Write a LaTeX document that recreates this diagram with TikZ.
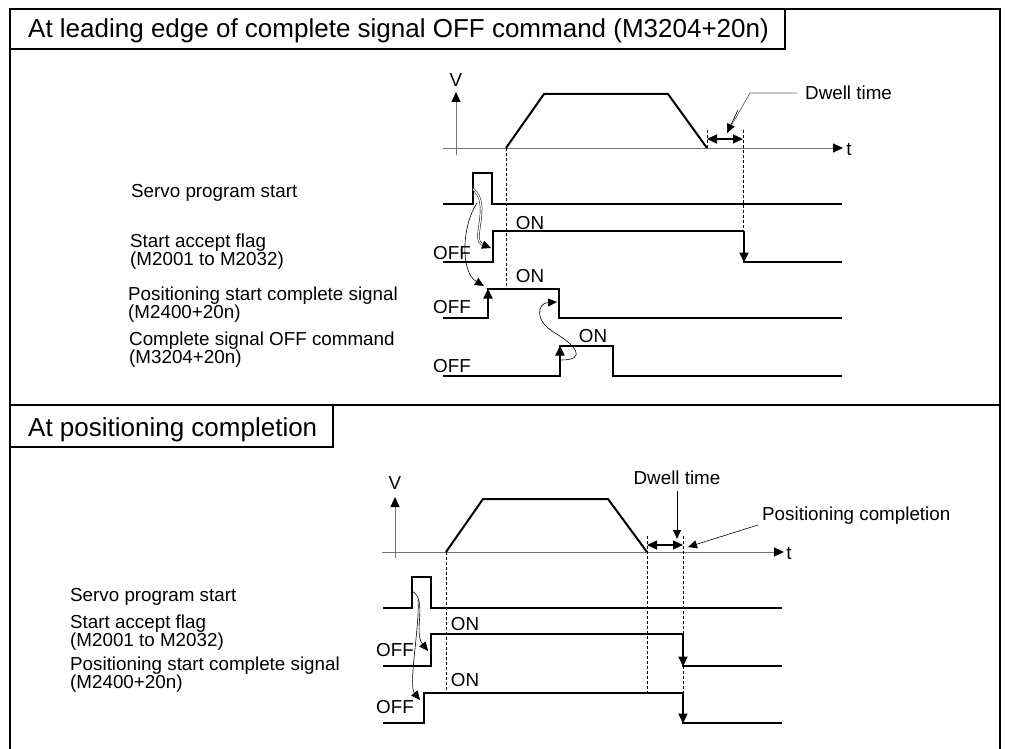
\documentclass[tikz,border=0pt]{standalone}
\usepackage{fontspec}
\setmainfont{Liberation Sans}
\usetikzlibrary{arrows.meta}
\tikzset{
  frame/.style={line width=2.8pt},
  sig/.style={line width=2pt},
  axis/.style={line width=0.9pt, black!55},
  guide/.style={line width=0.7pt, dash pattern=on 3pt off 2pt},
  lead/.style={line width=0.7pt, black!60},
  tip/.style={-{Triangle[length=10pt,width=9pt,color=black]}},
  both/.style={{Triangle[length=10pt,width=9pt]}-{Triangle[length=10pt,width=9pt]}, line width=1.2pt},
  link/.style={line width=0.6pt, -{Triangle[length=9pt,width=8pt]}},
  lbl/.style={font=\fontsize{18.8}{18}\selectfont, inner sep=0pt},
  txt/.style={lbl, anchor=west, align=left},
  title/.style={font=\fontsize{26}{28}\selectfont, inner sep=0pt, anchor=base west}
}
\begin{document}
\begin{tikzpicture}[x=1pt, y=-1pt]
  \useasboundingbox (0,0) rectangle (1009,749);
  \draw[frame] (10,749) -- (10,9) -- (1000,9) -- (1000,749);
  \draw[frame] (10,405) -- (1000,405);
  \draw[line width=2pt] (10,49) -- (785,49) -- (785,9);
  \draw[line width=2pt] (10,447) -- (333,447) -- (333,405);
  \node[title] (head1) at (28,37.5) {At leading edge of complete signal OFF command (M3204+20n)};
  \node[title] (head2) at (28,436) {At positioning completion};

  \node[txt] (servo1) at (131,193) {Servo program start};
  \node[txt] (accept1) at (130,252) {Start accept flag\\(M2001 to M2032)};
  \node[txt] (posstart1) at (128,305) {Positioning start complete signal\\(M2400+20n)};
  \node[txt] (offcmd1) at (129,350) {Complete signal OFF command\\(M3204+20n)};

  \draw[axis, tip] (456,155) -- (456,92);
  \draw[axis, tip] (443,148) -- (843,148);
  \node[lbl] (v1) at (456,80) {V};
  \node[lbl] (t1) at (849,149) {t};
  \draw[sig] (506,148) -- (544,94) -- (668,94) -- (707,148);
  \draw[guide] (506,148) -- (506,289);
  \draw[guide] (707,130) -- (707,148);
  \draw[guide] (743,130) -- (743,231);
  \draw[both] (707,139) -- (743,139);
  \node[lbl, anchor=west] (dwell1) at (805,93) {Dwell time};
  \coordinate (dwellend1) at (727,133);
  \draw[lead] (dwell1.west) ++(-8,0) -- (750,93) -- (dwellend1);
  \draw[link] (738,110) -- (dwellend1);

  \draw[sig] (443,204) -- (473,204) -- (473,173) -- (492,173) -- (492,204) -- (842,204);
  \draw[sig] (443,262) -- (493,262) -- (493,231) -- (744,231);
  \draw[sig, tip] (744,231) -- (744,262.5);
  \draw[sig] (743,262) -- (842,262);
  \draw[sig, tip] (488,318) -- (488,288.5);
  \draw[sig] (443,318) -- (489,318);
  \draw[sig] (487,289) -- (559,289) -- (559,318) -- (842,318);
  \draw[sig, tip] (560,376) -- (560,345.5);
  \draw[sig] (443,376) -- (561,376);
  \draw[sig] (559,346) -- (613,346) -- (613,376) -- (842,376);

  \node[lbl] (on11) at (530,223) {ON};
  \node[lbl] (on12) at (530,276) {ON};
  \node[lbl] (on13) at (593,336) {ON};
  \node[lbl] (off11) at (452,253) {OFF};
  \node[lbl] (off12) at (452,307) {OFF};
  \node[lbl] (off13) at (452,366) {OFF};

  \draw[link, double, double distance=1.3pt, line width=0.5pt] (473,189) .. controls (492,205) and (470,240) .. (491,248);
  \draw[link] (477,203) .. controls (462,225) and (460,272) .. (484,286);
  \draw[link] (561,360) .. controls (588,360) and (575,345) .. (555,333) .. controls (533,320) and (538,303) .. (557,302);

  \node[txt] (servo2) at (70,597) {Servo program start};
  \node[txt] (accept2) at (70,633) {Start accept flag\\(M2001 to M2032)};
  \node[txt] (posstart2) at (70,675) {Positioning start complete signal\\(M2400+20n)};

  \draw[axis, tip] (395,558) -- (395,497);
  \draw[axis, tip] (382,552) -- (784,552);
  \node[lbl] (v2) at (395,483) {V};
  \node[lbl] (t2) at (789,553) {t};
  \draw[sig] (446,552) -- (483,499) -- (608,499) -- (647,552);
  \draw[guide] (446,552) -- (446,693);
  \draw[guide] (647,536) -- (647,693);
  \draw[guide] (683,536) -- (683,723);
  \draw[both] (647,545) -- (683,545);
  \node[lbl] (dwell2) at (677,478) {Dwell time};
  \coordinate (dwellend2) at (677,539);
  \draw[link, line width=1pt] (dwell2.south) ++(0,6) -- (dwellend2);
  \node[lbl, anchor=west] (done2) at (762,516) {Positioning completion};
  \coordinate (doneend2) at (688,547);
  \draw[link] (done2.south west) ++(-4,0) -- (doneend2);

  \draw[sig] (383,608) -- (412,608) -- (412,577) -- (431,577) -- (431,608) -- (782,608);
  \draw[sig] (383,666) -- (431,666) -- (431,634) -- (683,634);
  \draw[sig, tip] (683,634) -- (683,666.5);
  \draw[sig] (682,666) -- (782,666);
  \draw[sig] (383,723) -- (424,723) -- (424,693) -- (683,693);
  \draw[sig, tip] (683,693) -- (683,723.5);
  \draw[sig] (682,723) -- (782,723);

  \node[lbl] (on21) at (465,624) {ON};
  \node[lbl] (on22) at (465,680) {ON};
  \node[lbl] (off21) at (395,650) {OFF};
  \node[lbl] (off22) at (395,707) {OFF};

  \draw[link] (412,591) .. controls (428,600) and (413,632) .. (428,651);
  \draw[link] (418,600) .. controls (420,625) and (408,685) .. (420,700);
\end{tikzpicture}
\end{document}
